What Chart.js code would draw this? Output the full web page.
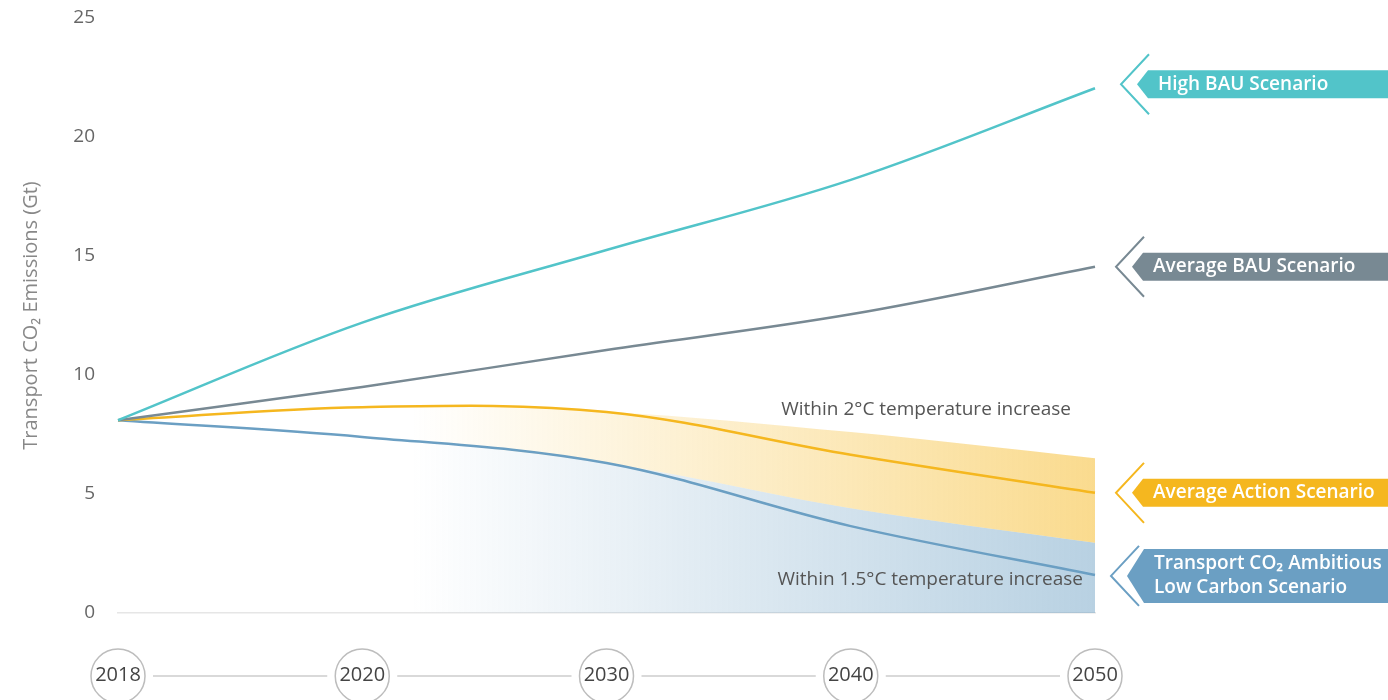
<!DOCTYPE html>
<html lang="en">
<head>
  <meta charset="UTF-8" />
  <title>Transport CO2 Emissions Scenarios</title>
  <script src="https://cdn.jsdelivr.net/npm/chart.js"></script>
  <style>
    body {
      margin: 0;
      background: #fff;
      font-family: 'Open Sans', 'Noto Sans', sans-serif;
    }
    canvas {
      display: block;
    }
  </style>
</head>
<body>
  <canvas id="chart" width="1388" height="700"></canvas>
<script>
    // values (Gt CO2)
    const years = ['2018', '2020', '2030', '2040', '2050'];
    const highBAU = [8.1, 12.2, 15.25, 18.2, 22.05];
    const avgBAU = [8.1, 9.5, 11.05, 12.55, 14.55];
    const avgAction = [8.1, 8.65, 8.45, 6.65, 5.05];
    const ambitious = [8.1, 7.4, 6.3, 3.65, 1.6];
    // shaded ranges
    const within2Top = [8.1, 8.65, 8.45, 7.6, 6.5];
    const within15Top = [8.1, 7.4, 6.3, 4.4, 2.95];
    const yTicks = [0, 5, 10, 15, 20, 25];

    const FONT = "'Open Sans'";
    const teal = '#52c4c9';
    const slate = '#788993';
    const amber = '#f5b71f';
    const steel = '#6b9fc3';

    const scenarioLabels = [
      { data: highBAU, color: teal, lines: ['High BAU Scenario'], dy: -4, vx: 26 },
      { data: avgBAU, color: slate, lines: ['Average BAU Scenario'], dy: 0, vx: 21 },
      { data: avgAction, color: amber, lines: ['Average Action Scenario'], dy: 0, vx: 21 },
      { data: ambitious, color: steel, lines: ['Transport CO\u2082 Ambitious', 'Low Carbon Scenario'], dy: 1, vx: 16 }
    ];
    const bandNotes = [
      { text: 'Within 2\u00b0C temperature increase', value: 8.55, inset: 24 },
      { text: 'Within 1.5\u00b0C temperature increase', value: 1.4, inset: 12 }
    ];

    const fade = (r, g, b, a) => ctx => {
      const area = ctx.chart.chartArea;
      if (!area) return 'rgba(0,0,0,0)';
      const grad = ctx.chart.ctx.createLinearGradient(area.left, 0, area.right, 0);
      grad.addColorStop(0, `rgba(${r},${g},${b},0)`);
      grad.addColorStop(0.3, `rgba(${r},${g},${b},0)`);
      grad.addColorStop(1, `rgba(${r},${g},${b},${a})`);
      return grad;
    };

    const line = (label, data, color) => ({
      label, data,
      borderColor: color,
      borderWidth: 2.5,
      pointRadius: 0,
      tension: 0.35,
      fill: false
    });

    const sideLabels = {
      id: 'sideLabels',
      afterDatasetsDraw(chart) {
        const { ctx, chartArea, scales: { x, y } } = chart;
        const W = chart.width;
        ctx.save();
        scenarioLabels.forEach(s => {
          const xe = x.getPixelForValue(s.data.length - 1);
          const ye = y.getPixelForValue(s.data[s.data.length - 1]) + s.dy;
          const two = s.lines.length > 1;
          const vx = xe + s.vx;
          // open chevron
          ctx.strokeStyle = s.color;
          ctx.lineWidth = 2;
          ctx.beginPath();
          ctx.moveTo(vx + 28, ye - 30);
          ctx.lineTo(vx, ye);
          ctx.lineTo(vx + 28, ye + 30);
          ctx.stroke();
          // pointed box
          const h = two ? 27 : 14;
          const bx = two ? vx + 33 : vx + 27;
          ctx.fillStyle = s.color;
          ctx.beginPath();
          ctx.moveTo(vx + 16, ye);
          ctx.lineTo(bx, ye - h);
          ctx.lineTo(W, ye - h);
          ctx.lineTo(W, ye + h);
          ctx.lineTo(bx, ye + h);
          ctx.closePath();
          ctx.fill();
          ctx.fillStyle = '#fff';
          ctx.font = `600 19px ${FONT}`;
          ctx.textAlign = 'left';
          ctx.textBaseline = 'middle';
          s.lines.forEach((t, i) => {
            const off = two ? (i === 0 ? -12 : 12) : 0;
            ctx.fillText(t, bx + 10, ye + off);
          });
        });
        ctx.fillStyle = '#555';
        ctx.font = `19px ${FONT}`;
        ctx.textAlign = 'right';
        ctx.textBaseline = 'middle';
        bandNotes.forEach(n => {
          ctx.fillText(n.text, chartArea.right - n.inset, y.getPixelForValue(n.value));
        });
        ctx.restore();
      },
      afterDraw(chart) {
        const { ctx, scales: { x } } = chart;
        const cy = x.top + 63;
        const r = 27;
        ctx.save();
        ctx.lineWidth = 1.5;
        years.forEach((yr, i) => {
          const px = x.getPixelForValue(i);
          ctx.strokeStyle = '#bdbdbd';
          ctx.beginPath();
          ctx.arc(px, cy, r, 0, Math.PI * 2);
          ctx.stroke();
          if (i < years.length - 1) {
            const nx = x.getPixelForValue(i + 1);
            ctx.strokeStyle = '#cccccc';
            ctx.beginPath();
            ctx.moveTo(px + r + 8, cy);
            ctx.lineTo(nx - r - 8, cy);
            ctx.stroke();
          }
        });
        ctx.restore();
      }
    };

    new Chart(document.getElementById('chart'), {
      type: 'line',
      data: {
        labels: years,
        datasets: [
          line('High BAU Scenario', highBAU, teal),
          line('Average BAU Scenario', avgBAU, slate),
          line('Average Action Scenario', avgAction, amber),
          line('Transport CO2 Ambitious Low Carbon Scenario', ambitious, steel),
          {
            label: 'Within 2°C',
            data: within2Top,
            borderWidth: 0,
            pointRadius: 0,
            tension: 0.35,
            backgroundColor: fade(245, 183, 31, 0.5),
            fill: '+1'
          },
          {
            label: 'Within 1.5°C',
            data: within15Top,
            borderWidth: 0,
            pointRadius: 0,
            tension: 0.35,
            backgroundColor: fade(107, 159, 195, 0.48),
            fill: 'origin'
          }
        ]
      },
      options: {
        responsive: false,
        animation: false,
        layout: { padding: { top: 18, right: 293, left: 0, bottom: 0 } },
        plugins: {
          legend: { display: false },
          tooltip: { enabled: false },
          filler: { drawTime: 'beforeDatasetsDraw' }
        },
        scales: {
          x: {
            offset: false,
            grid: { display: false, drawTicks: false },
            border: { display: true, color: '#e6e6e6', width: 1.5 },
            ticks: {
              color: '#444',
              font: { family: FONT, size: 20 },
              padding: 50,
              maxRotation: 0
            },
            afterFit: s => { s.height = 87; }
          },
          y: {
            min: 0,
            max: 25,
            afterBuildTicks: s => { s.ticks = yTicks.map(v => ({ value: v })); },
            grid: { display: false, drawTicks: false },
            border: { display: false },
            ticks: {
              color: '#666',
              font: { family: FONT, size: 19 },
              padding: 23
            },
            title: {
              display: true,
              text: 'Transport CO\u2082 Emissions (Gt)',
              color: '#888',
              font: { family: FONT, size: 20 },
              padding: { top: 19, bottom: 0 }
            },
            afterFit: s => {
              s.width = 118;
              s.paddingTop = 0;
              s.paddingBottom = 0;
            }
          }
        }
      },
      plugins: [sideLabels]
    });
  </script>
</body>
</html>
